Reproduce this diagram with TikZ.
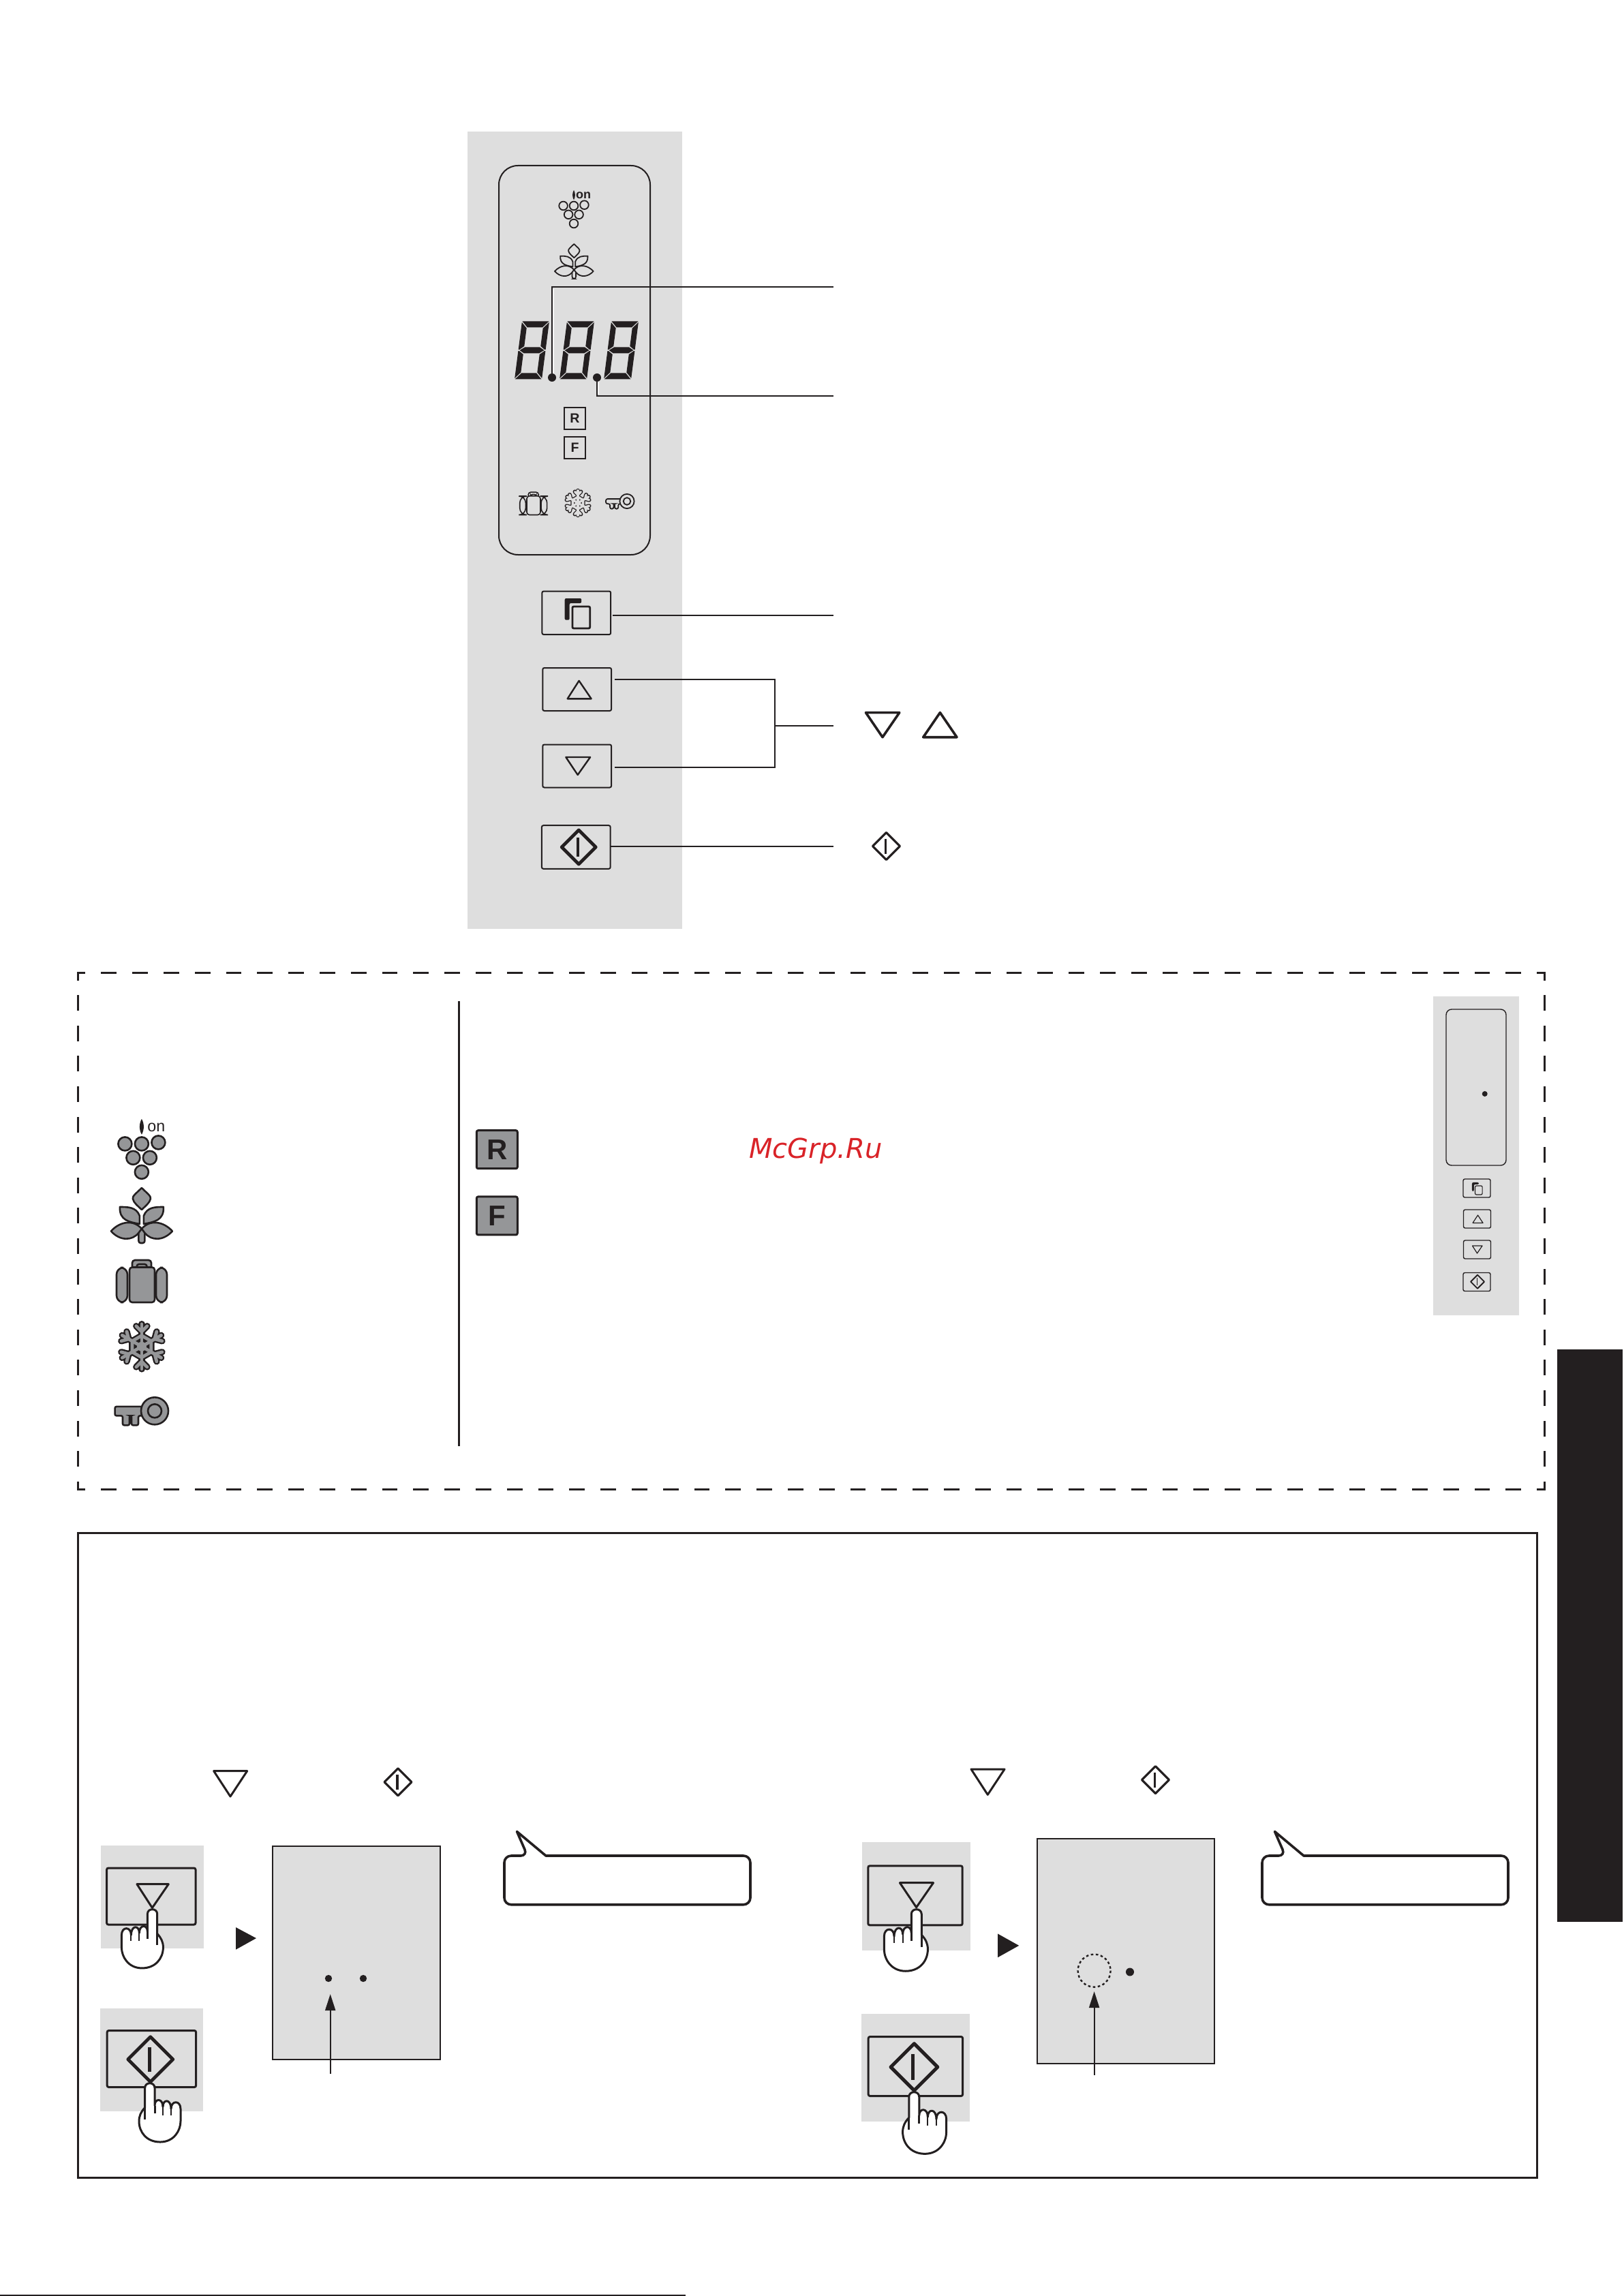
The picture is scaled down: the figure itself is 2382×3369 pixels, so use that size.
\documentclass[tikz,border=0pt]{standalone}
\usepackage{fontspec}
\usepackage{tikz}
\usetikzlibrary{arrows.meta}
\newfontfamily\keyfont{Liberation Sans}
\newfontfamily\markfont{DejaVu Sans}
\definecolor{inkc}{HTML}{231F20}
\definecolor{panelc}{HTML}{DEDEDE}
\definecolor{iconc}{HTML}{959698}
\definecolor{markc}{HTML}{D92328}
\tikzset{
  panel/.style={fill=panelc},
  lead/.style={draw=inkc,line width=0.5pt},
  halo/.style={draw=white,line width=0.3pt},
  btn/.style={draw=inkc,rounded corners=0.6pt,inner sep=0pt,outer sep=0pt,minimum width=#1},
  btn/.default=25.2pt,
  lcd/.style={draw=inkc,fill=panelc,line width=0.5pt,inner sep=0pt,outer sep=0pt},
  dotmark/.style={circle,fill=inkc,inner sep=0pt,outer sep=0pt,minimum size=#1},
  dotmark/.default=2.5pt,
  keybig/.style={draw=inkc,fill=iconc,line width=0.75pt,rounded corners=0.6pt,inner sep=0pt,outer sep=0pt,minimum width=15pt,minimum height=14pt,font=\keyfont\bfseries\fontsize{10.5}{10.5}\selectfont,text=inkc},
  keysmall/.style={draw=inkc,line width=0.5pt,inner sep=0pt,outer sep=0pt,minimum width=7.75pt,minimum height=8pt,font=\keyfont\bfseries\fontsize{4.9}{4.9}\selectfont,text=inkc},
  ptr/.style={draw=inkc,line width=0.5pt,-{Triangle[length=6pt,width=3.75pt]}},
  sym/.style={draw=inkc,line width=0.75pt,line join=round},
  hside/.style={draw=inkc,line width=0.75pt,line cap=rect,dash pattern=on 4.975pt off 6.475pt,dash phase=2.4875pt},
  vside/.style={draw=inkc,line width=0.75pt,line cap=rect,dash pattern=on 5pt off 6.15pt,dash phase=2.5pt},
  every pic/.style={yscale=-1},
  pics/startmark/.style={code={
    \draw[draw=inkc,line join=round] (0,-20) -- (20,0) -- (0,20) -- (-20,0) -- cycle;
    \draw[draw=inkc] (-1,-11) -- (-1,11);
  }},
  pics/copymark/.style={code={
    \fill[inkc,rounded corners=0.5pt] (-18.5,-22) -- (6,-22) -- (6,-15) -- (-11.5,-15) -- (-11.5,9.7) -- (-18.5,9.7) -- cycle;
    \draw[draw=inkc,rounded corners=0.5pt] (-7.3,-10) rectangle (18.5,22);
  }},
  pics/grapes/.style={code={
    \foreach \gx/\gy in {-24.5/-6.4,0/-6.4,24.5/-8.4,-12.5/14,12/14,0/35}
      \draw[draw=inkc,fill=#1] (\gx,\gy) circle (10);
    \fill[inkc] (0,-43) .. controls (4,-36) and (4,-27) .. (0,-20) .. controls (-4,-27) and (-4,-36) .. (0,-43) -- cycle;
  }},
  pics/leaves/.style={code={
    \draw[draw=inkc,fill=#1,line join=round] (0,-46) .. controls (8,-38) and (14,-34) .. (13,-30) .. controls (12,-24) and (5,-19) .. (0,-14) .. controls (-5,-19) and (-12,-24) .. (-13,-30) .. controls (-14,-34) and (-8,-38) .. (0,-46) -- cycle;
    \draw[draw=inkc,fill=#1,rounded corners=0.8pt] (-4.5,14) -- (-4.5,35) -- (4.5,35) -- (4.5,14) -- cycle;
    \foreach \sx in {-1,1} {
      \draw[xscale=\sx,draw=inkc,fill=#1,line join=round] (-32,-18) .. controls (-20,-18) and (-8,-18) .. (-3,-5) -- (-3,7) .. controls (-18,4) and (-33,2) .. (-32,-18) -- cycle;
      \draw[xscale=\sx,draw=inkc,fill=#1,line join=round] (-45,17.5) .. controls (-32,3) and (-12,0) .. (0,14) -- (-4.5,20) .. controls (-14,32) and (-32,32) .. (-45,17.5) -- cycle;
    }
  }},
  pics/suitcase/.style={code={
    \draw[draw=inkc,fill=#1,rounded corners=1pt] (-14,-20) -- (-14,-36) -- (14,-36) -- (14,-20) -- cycle;
    \draw[draw=inkc,fill=#1,rounded corners=0.8pt] (-7.3,-30) rectangle (7.5,-21);
    \draw[draw=inkc,fill=#1,rounded corners=1pt] (-18,-25.5) rectangle (19,26);
    \draw[draw=inkc,fill=#1,rounded corners=2.5pt] (-37,-25) rectangle (-21,26);
    \draw[draw=inkc,fill=#1,rounded corners=2.5pt] (21,-25) rectangle (37,26);
  }},
  pics/flake/.style n args={3}{code={
    \foreach \pass/\wid/\col in {1/#2/inkc,2/#3/#1} {
      \foreach \ang in {0,60,...,300} {
        \begin{scope}[rotate=\ang]
          \draw[draw=\col,line width=\wid,line cap=round,line join=round] (0,0) -- (0,-33);
          \draw[draw=\col,line width=\wid,line cap=round,line join=round] (-8,-30) -- (0,-22) -- (8,-30);
          \draw[draw=\col,line width=\wid,line cap=round] (0,-16) -- (13.9,-8);
        \end{scope}
      }
      \fill[\col] (0,0) circle (7);
    }
  }},
  pics/keymark/.style={code={
    \draw[draw=inkc,fill=#1,rounded corners=0.6pt] (-18,-6.4) -- (-58.4,-6.4) -- (-58.4,7) -- (-47,7) -- (-47,21) -- (-37,21) -- (-37,7) -- (-34,7) -- (-34,21) -- (-24,21) -- (-24,7) -- (-18,7);
    \draw[draw=inkc,fill=#1] (0,0) circle (20);
    \draw[draw=inkc,fill=#1] (0,0) circle (10);
  }},
  pics/digit/.style={code={
    \fill[inkc] (0.5,0) -- (39.5,0) -- (31,9) -- (9,9) -- cycle;
    \fill[inkc] (0.5,85) -- (39.5,85) -- (31,76) -- (9,76) -- cycle;
    \fill[inkc] (2,42.5) -- (9,38) -- (31,38) -- (38,42.5) -- (31,47) -- (9,47) -- cycle;
    \foreach \sx/\ox in {1/0,-1/40} {
      \fill[inkc,xshift=\ox*0.25pt,xscale=\sx] (0,1.5) -- (8,10) -- (8,36.5) -- (1.5,41.5) -- (0,41.5) -- cycle;
      \fill[inkc,xshift=\ox*0.25pt,xscale=\sx] (0,83.5) -- (8,75) -- (8,48.5) -- (1.5,43.5) -- (0,43.5) -- cycle;
    }
  }},
  pics/hand/.style={code={
    \draw[draw=inkc,fill=white,line join=round,line width=0.75pt] (-7,7) .. controls (-7,-2) and (7.3,-2) .. (7.3,7) -- (7.3,36) .. controls (13,42) and (16,48) .. (16,56) .. controls (16,72) and (5,86.5) .. (-15,86.5) .. controls (-35,86.5) and (-45,70) .. (-45,56) -- (-45,38) .. controls (-45,25) and (-31,25) .. (-31,38) .. controls (-31,23) and (-19,23) .. (-19,35) .. controls (-19,22) and (-7,22) .. (-7,33) -- cycle;
    \draw[draw=inkc,line width=0.5pt] (-31,38) -- (-31,47);
    \draw[draw=inkc,line width=0.5pt] (-19,35) -- (-19,47);
    \draw[draw=inkc,line width=0.75pt] (-7,33) -- (-7,44);
    \draw[draw=inkc,line width=0.75pt] (7.3,36) -- (7.3,53);
  }},
  pics/callout/.style={code={
    \draw[draw=inkc,fill=white,line width=0.9pt,line join=round,rounded corners=2.5pt] (61,35.5) -- (361,35.5) -- (361,107.2) -- (0,107.2) -- (0,35.5) -- (34,35.5) [sharp corners] -- (18.5,0) -- cycle;
  }}
}
\begin{document}
\begin{tikzpicture}[x=0.25pt,y=0.25pt,yscale=-1,xscale=1]
\useasboundingbox (0,0) rectangle (2382,3369);

%Shape: control panel
\fill[panel] (686,193) rectangle (1001,1363);
\draw[lead,rounded corners=7pt] (843,243) -- (954,243) -- (954,814) -- (732,814) -- (732,243) -- cycle;

%Shape: panel icons
\pic[scale=0.63,line width=0.45pt] at (842,306) {grapes=panelc};
\pic[scale=0.63,line width=0.45pt] at (842.3,387) {leaves=panelc};
\pic[scale=0.54,line width=0.4pt] at (782.7,741.5) {suitcase=panelc};
\pic[scale=0.55] at (848,738) {flake={panelc}{1.5pt}{0.85pt}};
\pic[scale=0.53,line width=0.45pt] at (920,735.5) {keymark=panelc};

%Shape: three digits
\foreach \dx in {766,832,897} {
  \pic[xslant=0.129] at (\dx,471.5) {digit};
}

% Text Node
\node[inkc,font=\keyfont\bfseries\fontsize{4.5}{4.5}\selectfont] (onSmall) at (856,287) {on};
\node[keysmall] (rSmall) at (843.5,614) {R};
\node[keysmall] (fSmall) at (843.5,657) {F};

%Shape: leader lines of the display
\node[dotmark=3pt] (dotTemp) at (810,554) {};
\node[dotmark=3pt] (dotFrz) at (876,554) {};
\coordinate (endTemp) at (1223,420.6);
\coordinate (endFrz) at (1223,581);
\draw[halo] (812,424) -- (812,548);
\draw[halo] (878,560) -- (878,578);
\draw[lead] (dotTemp) |- (endTemp);
\draw[lead] (dotFrz) |- (endFrz);

%Shape: panel buttons
\node[btn,line width=0.5pt,minimum height=15.9pt] (btnCopy) at (845.8,899.3) {};
\node[btn,line width=0.5pt,minimum height=15.75pt] (btnUp) at (846.7,1011.5) {};
\node[btn,line width=0.5pt,minimum height=15.75pt] (btnDown) at (846.7,1124) {};
\node[btn,line width=0.5pt,minimum height=15.9pt] (btnStart) at (845.3,1243) {};
\pic[line width=0.7pt] at (847.2,900) {copymark};
\draw[sym,line width=0.6pt] (849.6,998.9) -- (867.6,1025.3) -- (832.7,1025.3) -- cycle;
\draw[sym,line width=0.6pt] (830.3,1111) -- (866.1,1111) -- (847.7,1137) -- cycle;
\pic[scale=1.25,line width=1.2pt] at (849.2,1243) {startmark};

%Shape: leader lines of the buttons
\coordinate (endCopy) at (1223,903.2);
\coordinate (endStart) at (1223,1241.6);
\coordinate (brTop) at (1137,997);
\coordinate (brBot) at (1137,1125.6);
\coordinate (brMid) at (1137,1065.3);
\coordinate (endPair) at (1223,1065.3);
\draw[lead] ([xshift=0.75pt]btnCopy.east |- endCopy) -- (endCopy);
\draw[lead] (btnStart.east |- endStart) -- (endStart);
\draw[lead] ([xshift=1.25pt]btnUp.east |- brTop) -- (brTop) -- (brBot) -- ([xshift=1.25pt]btnDown.east |- brBot);
\draw[lead] (brMid) -- (endPair);

%Shape: marks next to the leader lines
\draw[sym,line width=0.9pt] (1270.4,1045.6) -- (1319.8,1045.6) -- (1295,1081.7) -- cycle;
\draw[sym,line width=0.9pt] (1379.4,1045.6) -- (1404,1081.7) -- (1354.7,1081.7) -- cycle;
\pic[line width=0.8pt] at (1300.4,1241.6) {startmark};

%Shape: dashed box
\draw[hside] (114,1427) -- (2266.5,1427);
\draw[hside] (114,2185) -- (2266.5,2185);
\draw[vside] (114,1427) -- (114,2185);
\draw[vside] (2266.5,1427) -- (2266.5,2185);
\draw[draw=inkc,line width=0.75pt] (673,1469) -- (673,2122);

%Shape: icons of the dashed box
\pic[line width=0.65pt] at (207.9,1684.8) {grapes=iconc};
\node[inkc,font=\keyfont\fontsize{5.8}{5.8}\selectfont] (onBig) at (229.3,1654) {on};
\pic[line width=0.65pt] at (207.9,1789) {leaves=iconc};
\pic[line width=0.65pt] at (208,1885) {suitcase=iconc};
\pic at (207.9,1975.8) {flake={iconc}{2.4pt}{1.2pt}};
\pic[line width=0.65pt] at (227,2070.3) {keymark=iconc};

% Text Node
\node[keybig] (rBig) at (729.3,1686.7) {R};
\node[keybig] (fBig) at (729.3,1783.9) {F};
\node[anchor=base,text=markc,font=\markfont\itshape\fontsize{10}{10}\selectfont] (markText) at (1197,1699) {McGrp.Ru};

%Shape: side panel
\fill[panel] (2102.7,1462) rectangle (2229,1930);
\draw[draw=inkc,line width=0.35pt,rounded corners=2pt] (2122,1481) rectangle (2210,1710);
\node[dotmark=2pt] (dotSide) at (2178.7,1605) {};
\node[btn=10pt,line width=0.35pt,minimum height=6.75pt] (sideCopy) at (2167,1743.5) {};
\node[btn=10pt,line width=0.35pt,minimum height=6.75pt] (sideUp) at (2167.5,1788.5) {};
\node[btn=10pt,line width=0.35pt,minimum height=6.75pt] (sideDown) at (2167.5,1833.5) {};
\node[btn=10pt,line width=0.35pt,minimum height=6.75pt] (sideStart) at (2167,1881) {};
\pic[scale=0.41,line width=0.3pt] at (2167.5,1744) {copymark};
\draw[sym,line width=0.3pt] (2168.5,1783) -- (2176,1794.5) -- (2161,1794.5) -- cycle;
\draw[sym,line width=0.3pt] (2160.5,1828) -- (2175,1828) -- (2167.5,1839) -- cycle;
\pic[scale=0.5,line width=0.45pt] at (2168,1880.7) {startmark};

%Shape: side tab and page rule
\fill[inkc] (2285,1980) rectangle (2381,2820);
\fill[inkc] (0,3367) rectangle (1006,3369);

%Shape: solid box
\draw[draw=inkc,line width=0.75pt] (114,2249) rectangle (2255.5,3195);

%Shape: left step
\draw[sym] (313.6,2598.6) -- (362.7,2598.6) -- (338,2636) -- cycle;
\pic[line width=0.8pt] at (584,2614.8) {startmark};
\fill[panel] (147.8,2707.7) rectangle (299,2859);
\node[btn=32.6pt,line width=0.75pt,minimum height=20.75pt] (leftDown) at (221.8,2782.5) {};
\draw[sym] (200.9,2764.6) -- (247.3,2764.6) -- (223.4,2799.4) -- cycle;
\pic at (223.4,2801.4) {hand};
\fill[panel] (147.2,2947) rectangle (297.7,3098);
\node[btn=32.6pt,line width=0.75pt,minimum height=20.75pt] (leftStart) at (222.4,3021) {};
\pic[scale=1.65,line width=1.2pt] at (220.8,3021.7) {startmark};
\pic[xscale=-1] at (220,3056.5) {hand};
\fill[inkc] (346,2828) -- (376,2844) -- (346,2860.7) -- cycle;
\node[lcd,minimum width=61.5pt,minimum height=78.2pt] (leftLcd) at (523.4,2865.7) {};
\node[dotmark=2.6pt] (leftDotA) at (482,2903) {};
\node[dotmark=2.6pt] (leftDotB) at (533,2903) {};
\coordinate (leftFoot) at (484.7,3043);
\coordinate (leftTip) at (484.7,2926);
\draw[ptr] (leftFoot) -- (leftTip);
\pic at (740,2687.5) {callout};

%Shape: right step
\draw[sym] (1425,2596) -- (1474,2596) -- (1449.3,2633.4) -- cycle;
\pic[line width=0.8pt] at (1695.5,2611.6) {startmark};
\fill[panel] (1265,2703) rectangle (1424.4,2862);
\node[btn=34.6pt,line width=0.75pt,minimum height=21.75pt] (rightDown) at (1343,2781.3) {};
\draw[sym] (1320.4,2762.7) -- (1369.5,2762.7) -- (1344.6,2798.7) -- cycle;
\pic[scale=1.05] at (1344.6,2801.4) {hand};
\fill[panel] (1264.2,2954.8) rectangle (1423,3113);
\node[btn=34.6pt,line width=0.75pt,minimum height=21.75pt] (rightStart) at (1343.4,3032) {};
\pic[scale=1.72,line width=1.25pt] at (1341.4,3033) {startmark};
\pic[xscale=-1.05,yscale=1.05] at (1341.4,3069.5) {hand};
\fill[inkc] (1464,2837.4) -- (1495.2,2854.8) -- (1464,2872.2) -- cycle;
\node[lcd,minimum width=64.8pt,minimum height=82.65pt] (rightLcd) at (1652,2863) {};
\draw[draw=inkc,line width=0.6pt,dash pattern=on 0.9pt off 0.9pt] (1605.6,2891.6) circle (24);
\node[dotmark=3pt] (rightDot) at (1658,2893.5) {};
\coordinate (rightFoot) at (1605.6,3044.6);
\coordinate (rightTip) at (1605.6,2922);
\draw[ptr] (rightFoot) -- (rightTip);
\pic at (1852,2687.5) {callout};
\end{tikzpicture}
\end{document}
